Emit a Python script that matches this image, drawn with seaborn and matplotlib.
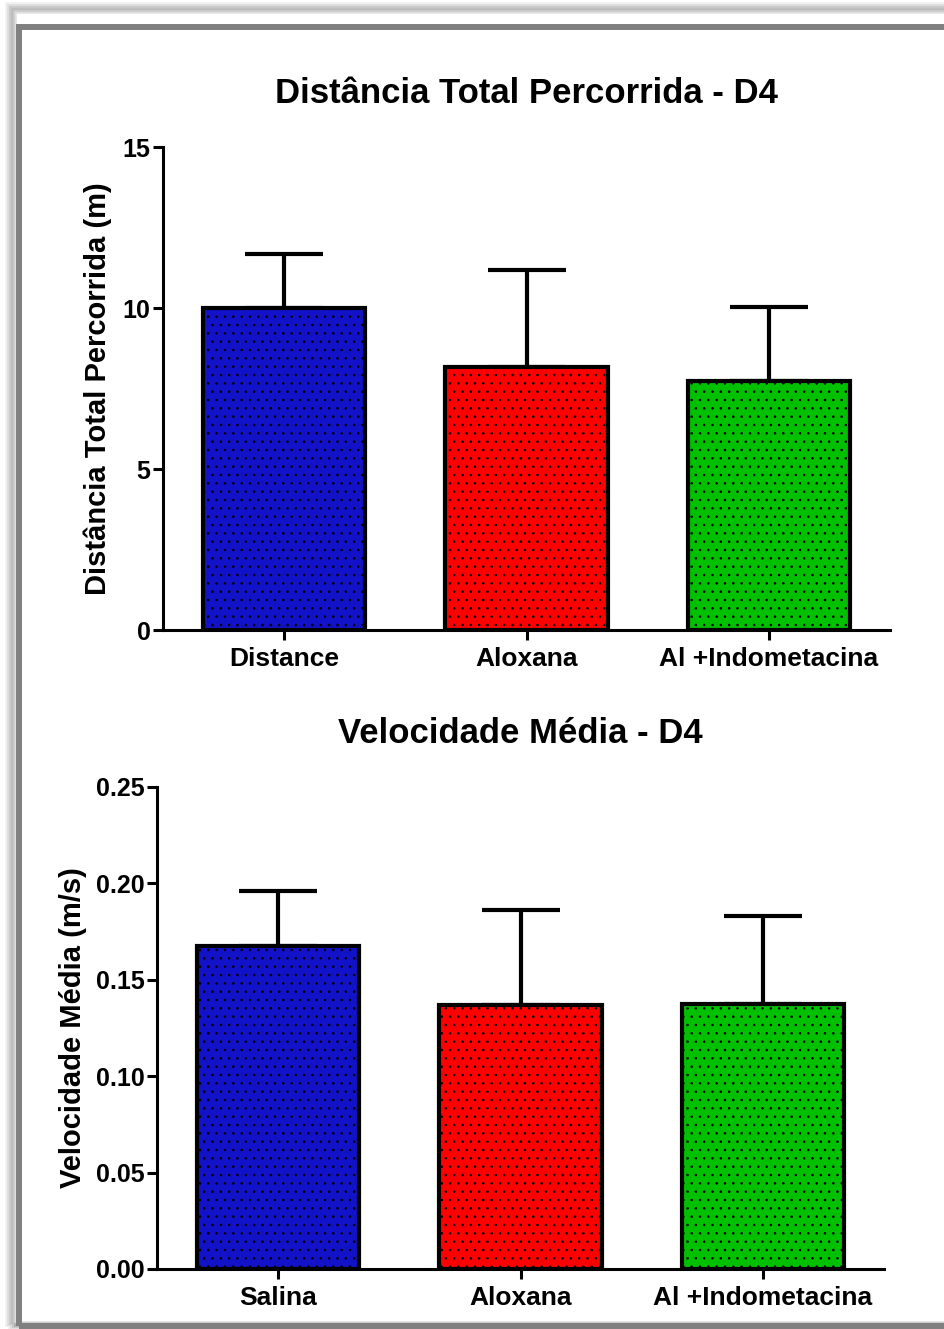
import matplotlib
matplotlib.use("Agg")
import matplotlib.pyplot as plt
import seaborn as sns
import pandas as pd
import numpy as np
from matplotlib.patches import Rectangle

# ---- data ----
cats_top = ["Distance", "Aloxana", "Al +Indometacina"]
mean_top = [10.0, 8.17, 7.73]
err_top = [1.68, 3.01, 2.30]

cats_bot = ["Salina", "Aloxana", "Al +Indometacina"]
mean_bot = [0.1675, 0.137, 0.1375]
err_bot = [0.0285, 0.049, 0.0455]

colors = ["#1212C8", "#FF0000", "#00C000"]

sns.set_theme(style="white")
plt.rcParams['font.family'] = ['Liberation Sans', 'DejaVu Sans']
plt.rcParams['font.weight'] = 'bold'
plt.rcParams['text.color'] = 'black'
plt.rcParams['axes.labelcolor'] = 'black'
plt.rcParams['xtick.color'] = 'black'
plt.rcParams['ytick.color'] = 'black'
plt.rcParams['hatch.color'] = 'black'
plt.rcParams['hatch.linewidth'] = 0.6

fig = plt.figure(figsize=(9.44, 13.29), dpi=100)

ax1 = fig.add_axes([163/944, 1-630/1329, 727/944, 483/1329])
ax2 = fig.add_axes([157/944, 1-1269/1329, 727/944, 482/1329])

def draw(ax, cats, means, errs, ylim, yticks, ylabel, title, fmt, lpad):
    df = pd.DataFrame({"cat": cats, "val": means})
    sns.barplot(data=df, x="cat", y="val", hue="cat", palette=colors,
                width=0.67, legend=False, ax=ax, edgecolor="black",
                linewidth=3.0, saturation=1, errorbar=None, zorder=2)
    for p in ax.patches:
        p.set_hatch("..")
    xs = np.arange(len(cats))
    ax.errorbar(xs, means, yerr=[np.zeros(len(errs)), errs], fmt="none",
                ecolor="black", elinewidth=3.0, capsize=28, capthick=3.0, zorder=1)
    ax.set_xlim(-0.5, len(cats) - 0.5)
    ax.set_ylim(*ylim)
    ax.set_yticks(yticks)
    ax.set_yticklabels([fmt.format(v) for v in yticks], fontsize=18, fontweight='bold')
    ax.set_xticks(xs)
    ax.set_xticklabels(cats, fontsize=19, fontweight='bold')
    ax.set_xlabel("")
    ax.set_ylabel(ylabel, fontsize=21, fontweight='bold', labelpad=lpad)
    ax.set_title(title, fontsize=25, fontweight='bold', pad=32)
    for s in ["top", "right"]:
        ax.spines[s].set_visible(False)
    for s in ["left", "bottom"]:
        ax.spines[s].set_linewidth(2.2)
        ax.spines[s].set_color("black")
    ax.tick_params(axis="both", direction="out", length=7, width=2.2, color="black",
                   left=True, bottom=True, pad=2)
    ax.tick_params(axis="x", pad=5)

draw(ax1, cats_top, mean_top, err_top, (0, 15), [0, 5, 10, 15],
     "Distância Total Percorrida (m)", "Distância Total Percorrida - D4", "{:.0f}", 8)
draw(ax2, cats_bot, mean_bot, err_bot, (0, 0.25), [0, 0.05, 0.10, 0.15, 0.20, 0.25],
     "Velocidade Média (m/s)", "Velocidade Média - D4", "{:.2f}", 6)

# frame with soft shadow
W, H = 944, 1329
for i, a in enumerate([0.06, 0.08, 0.10, 0.12]):
    off = 4 - i
    fig.patches.append(Rectangle(((16 - off*2)/W, (6 - off)/H), (940)/W, (1310 + off*3)/H,
                                 transform=fig.transFigure, fill=False,
                                 edgecolor=(0, 0, 0, a), linewidth=4))
fig.patches.append(Rectangle((19/W, (H - 1326)/H), 940/W, (1326 - 27)/H,
                             transform=fig.transFigure, fill=False,
                             edgecolor="#808080", linewidth=4.3))

fig.savefig("out.png", dpi=100)
